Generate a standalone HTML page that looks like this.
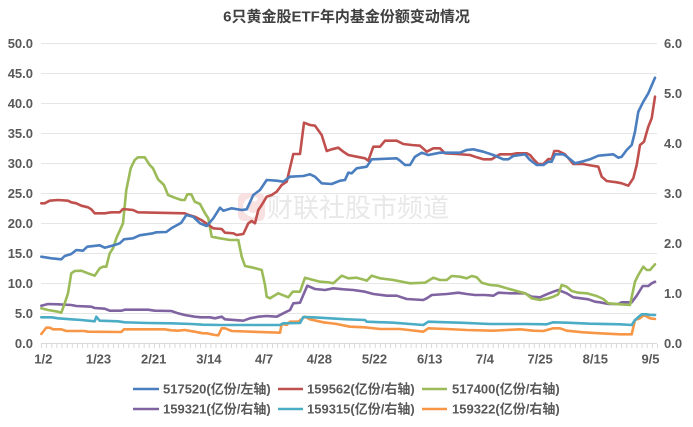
<!DOCTYPE html>
<html>
<head>
<meta charset="utf-8">
<style>
html,body{margin:0;padding:0;background:#fff;}
body{width:693px;height:427px;overflow:hidden;}
svg{display:block;}
text{font-family:"Liberation Sans","Noto Sans CJK SC",sans-serif;}
</style>
</head>
<body>
<svg width="693" height="427" viewBox="0 0 693 427" xmlns="http://www.w3.org/2000/svg">
<rect width="693" height="427" fill="#fff"/>
<!-- title -->
<text x="346.5" y="21.5" text-anchor="middle" font-size="15" font-weight="bold" fill="#404040" style='font-family:"Liberation Sans","Noto Sans CJK SC",sans-serif'>6只黄金股ETF年内基金份额变动情况</text>

<!-- gridlines -->
<g stroke="#e6e6e6" stroke-width="1">
<line x1="41" y1="43.5" x2="657" y2="43.5"/>
<line x1="41" y1="73.5" x2="657" y2="73.5"/>
<line x1="41" y1="103.5" x2="657" y2="103.5"/>
<line x1="41" y1="133.5" x2="657" y2="133.5"/>
<line x1="41" y1="163.5" x2="657" y2="163.5"/>
<line x1="41" y1="193.5" x2="657" y2="193.5"/>
<line x1="41" y1="223.5" x2="657" y2="223.5"/>
<line x1="41" y1="253.5" x2="657" y2="253.5"/>
<line x1="41" y1="283.5" x2="657" y2="283.5"/>
<line x1="41" y1="313.5" x2="657" y2="313.5"/>
</g>
<!-- x axis -->
<line x1="41" y1="343.5" x2="657" y2="343.5" stroke="#d9d9d9" stroke-width="1"/>
<path id="ticks" stroke="#d9d9d9" stroke-width="1" fill="none" d=""/>

<!-- watermark -->
<g opacity="0.9">
<rect x="238" y="193" width="27" height="28" rx="6" fill="#fadede"/>
<path d="M257 200 A8 8 0 1 0 257 214" stroke="#fff" stroke-width="4" fill="none"/>
<text x="267" y="217" font-size="26" fill="#e6e6e6" style='font-family:"Noto Sans CJK SC",sans-serif'>财联社股市频道</text>
</g>

<g fill="none" stroke-width="2.6" stroke-linejoin="round" stroke-linecap="round">
<!-- orange 159322 -->
<polyline stroke="#F79646" points="41.3,334 46.3,327.7 49.7,327.7 53,329.3 61.3,329.3 66.3,331 84.7,331 88,331.7 121.3,332 124,329.3 164.7,329.3 171.3,330.3 178,330.7 184.7,330 194.7,331.7 203,333.3 206.7,333.3 215,335 218.3,335.3 221.7,328.3 225,328.3 231.7,331 280,332.7 281.7,324 286.7,325 290,321.7 298.3,321.7 305,316.7 310,319.3 323.3,322.3 336.7,324 350,326.7 365,327.3 380,329 400,329 423.3,331.7 428.3,328.3 446.7,329 466.7,330 493.3,330.7 520,329.3 533.3,330.7 543.3,331 553.3,328.3 560,328.3 566.7,330.7 583.3,332.3 600,333.3 620,334.3 631.7,334.3 635,320 640,318.3 644,315 650,318.3 655,319"/>
<!-- cyan 159315 -->
<polyline stroke="#4BACC6" points="41.3,317.3 51.3,317.3 58,318.3 71.3,319.3 81.3,320 94.7,321.3 96.3,316.7 99.7,320.7 118,321.3 124.7,322.3 148,323 171.3,323.3 191.3,324 203,324.7 220,325 280,325 283.3,323.3 300,323 303.3,317 313.3,317.3 330,318.3 346.7,319.3 365,320 366.7,321.7 393.3,322.7 423.3,325 428.3,321.7 446.7,322.3 460,322.7 490,324 525,324 546.7,324.3 553.3,322.3 566.7,322.7 590,323.7 620,324.3 631.7,325 635,320 641.7,314.3 646.7,314.3 650,315 655,315"/>
<!-- purple 159321 -->
<polyline stroke="#8064A2" points="41.3,305.7 48,304 58,304.3 71.3,305 76.3,306 91.3,306.7 94.7,308 104.7,308.7 109.7,310.7 121.3,310.7 124.7,309.7 148,309.7 154.7,310.7 171.3,311 178,313.3 184.7,315 194.7,316.7 201.3,317.3 210,317.3 215,318.3 221.7,316.7 225,319.3 243.3,320.7 250,318.3 258.3,316.7 266.7,316 276.7,316.7 283.3,313.3 290,310 293.3,303.3 300,302.7 303.3,295 307.3,285.7 315,289 325,290 333.3,288.3 343.3,289.3 353.3,290 365,291.7 373.3,294 386.7,295.7 396.7,295.7 406.7,299 423.3,300 426.7,298.3 431.7,295 446.7,294 458.3,292.7 466.7,294 475,295 485,295 493.3,295.7 498.3,292.7 510,293.3 525,293.3 526.7,294.3 531.7,296.7 540,297.3 546.7,294.3 553.3,291.7 558.3,290 566.7,293.3 573.3,297.3 588.3,299.3 595,301.7 600,302.3 608.3,304 618.3,304 621.7,302.3 631.7,302.3 636.7,295.7 642.7,286 648.3,286 651.7,283.3 655,281.7"/>
<!-- green 517400 -->
<polyline stroke="#9BBB59" points="41.3,308.3 48,310 58,311.7 61.3,312.7 64.7,303.3 68,293.3 71.3,273.3 74.7,271 81.3,270.7 88,273.3 94.7,275.7 99.7,268.3 103,266.7 106.3,266.7 109.7,253.3 113,248.3 116.3,238.3 123,223.3 126.3,190 130.7,168.3 134.7,160 138,157.3 144.7,157.3 149.7,165 153,168.3 158,179.3 164,185 168,195 174.7,197.7 181.3,200 184.7,200 187.3,194.3 191.3,194.3 194.7,201.7 200,204 205,213.3 208.3,218.3 211.7,236.7 220,238.3 230,240 238.3,240 241.7,256.7 245,266 253.3,267.7 261.7,270 265,285 266.7,296.7 270,298.3 278.3,293.3 288.3,297.3 292.7,291.7 300,291.7 305,277.7 313.3,280 320,281.7 328.3,282.3 333.3,283.3 341.7,275.7 348.3,278.3 356.7,277.7 365,280 366.7,280.7 371.7,275.7 380,278.3 393.3,280 410,283.3 425,282.7 433.3,277.7 440,280 446.7,280 451.7,276 460,276.7 466.7,278.3 471.7,276 476.7,277.3 481.7,282.7 490,285 498.3,285.7 506.7,288.3 516.7,291 525,293.3 526.7,294.3 531.7,298.3 540,300 548.3,298.3 553.3,296.7 558.3,294.3 561.7,285 566.7,286.7 571.7,291 578.3,292.7 586.7,293.3 596.7,296 603.3,299 608.3,303.3 620,304.3 630,305 635,281.7 638.3,275 643.3,266.7 646.7,270 650,270 655,264.3"/>
<!-- red 159562 -->
<polyline stroke="#C0504D" points="41.3,203.3 44.7,203.3 49.7,200.7 58,200 68,200.7 71.3,202.3 76.3,203.3 81.3,205.7 88,207.3 91.3,209.3 94.7,213.3 104.7,213.3 111.3,212.3 119.7,212.3 123,209 133,210 138,212.3 184.7,213.3 189.7,215.3 194.7,216.7 201.3,220 210,226 213.3,228.3 221.7,229 225,232.7 233.3,233.3 236.7,235 243.3,234 248.3,223.3 251.7,221 255,223.3 258.3,210 261.7,205 266.7,196.7 271.7,195 276.7,191.7 281.7,185 286.7,181.7 293.3,154 300,154 304,122.7 310,125 315,125.7 321.7,135 326.7,151 331.7,149.3 338.3,147.7 343.3,151.7 348.3,155 356.7,156.7 365,158.3 368.3,160.7 373.3,146.7 380,146.7 385,140.7 396.7,140.7 403.3,144 411.7,145 420,145.7 426.7,151.7 433.3,148.3 440,148.3 445,153.3 456.7,154 470,155 476.7,157.3 483.3,159.3 491.7,159.3 496.7,156 500,154.3 511.7,154.3 516.7,153.3 526.7,153.3 530,155 533.3,159 538.3,164 543.3,164 548.3,159 551.7,159 554.3,151 558.3,151 565,154.3 570,160 573.3,164 583.3,164 588.3,165 598.3,166.7 601.7,176.7 606.7,181 616.7,182.3 621.7,183.3 628.3,185.7 633.3,178.3 636.7,165 640,145 644,141.7 648.3,126.7 651.7,118.3 655,96.7"/>
<!-- blue 517520 -->
<polyline stroke="#4A7EBF" points="41.3,256.7 51.3,258.3 61.3,259.3 64.7,256 71.3,254 76.3,250 83,250.7 87.3,246.7 99.7,245.3 104.7,247.7 114.7,245 119.7,243.3 124,239.3 133,238.3 139.7,235.3 153,233.3 156.3,232.3 166.3,232 171.3,228.3 181.3,222.7 186.3,215 193,216.7 200,223.3 206.7,226 213.3,218.3 220,207.7 223.3,210.7 231.7,208.3 241.7,210 246.7,209.3 253.3,195 260,190 266.7,180 276.7,180.7 283.3,181.7 290,176.7 303.3,176 310,174.3 315,176.7 321.7,183.3 331.7,184 340,180.7 345,180 348.3,172.7 351.7,173.3 356.7,168.3 366.7,166.7 371.7,159.3 396.7,158.3 400,160.7 405,165 410,165 415,156.7 421.7,152.7 428.3,155 440,152.7 460,152.7 466.7,150 473.3,149.3 483.3,151.7 493.3,155 503.3,159.3 508.3,159.3 513.3,156 525,154.3 530,160 536.7,165 543.3,165 548.3,161.7 551.7,161.7 555,154.3 563.3,154.3 568.3,157.7 575,163.3 581.7,161.7 590,159.3 598.3,155.7 613.3,154.3 618.3,157.7 621.7,156.7 626.7,150 631.7,145 635,131.7 638.3,111.7 643.3,101.7 648.3,93.3 655,77.7"/>
</g>

<!-- left axis labels -->
<g font-size="13" font-weight="bold" fill="#595959" text-anchor="end">
<text x="33" y="48">50.0</text>
<text x="33" y="78">45.0</text>
<text x="33" y="108">40.0</text>
<text x="33" y="138">35.0</text>
<text x="33" y="168">30.0</text>
<text x="33" y="198">25.0</text>
<text x="33" y="228">20.0</text>
<text x="33" y="258">15.0</text>
<text x="33" y="288">10.0</text>
<text x="33" y="318">5.0</text>
<text x="33" y="348">0.0</text>
</g>
<!-- right axis labels -->
<g font-size="13" font-weight="bold" fill="#595959">
<text x="664" y="48">6.0</text>
<text x="664" y="98">5.0</text>
<text x="664" y="148">4.0</text>
<text x="664" y="198">3.0</text>
<text x="664" y="248">2.0</text>
<text x="664" y="298">1.0</text>
<text x="664" y="348">0.0</text>
</g>
<!-- x labels -->
<g font-size="13" font-weight="bold" fill="#595959" text-anchor="middle">
<text x="43.3" y="363.5">1/2</text>
<text x="98.5" y="363.5">1/23</text>
<text x="153.7" y="363.5">2/21</text>
<text x="208.9" y="363.5">3/14</text>
<text x="264.1" y="363.5">4/7</text>
<text x="319.3" y="363.5">4/28</text>
<text x="374.5" y="363.5">5/22</text>
<text x="429.7" y="363.5">6/13</text>
<text x="484.9" y="363.5">7/4</text>
<text x="540.1" y="363.5">7/25</text>
<text x="595.3" y="363.5">8/15</text>
<text x="650.5" y="363.5">9/5</text>
</g>

<!-- legend -->
<g stroke-width="2.6" fill="none">
<line x1="133" y1="389" x2="159" y2="389" stroke="#4A7EBF"/>
<line x1="278" y1="389" x2="303" y2="389" stroke="#C0504D"/>
<line x1="422" y1="389" x2="447" y2="389" stroke="#9BBB59"/>
<line x1="133" y1="409" x2="159" y2="409" stroke="#8064A2"/>
<line x1="278" y1="409" x2="303" y2="409" stroke="#4BACC6"/>
<line x1="422" y1="409" x2="447" y2="409" stroke="#F79646"/>
</g>
<g font-size="13" font-weight="bold" fill="#595959">
<text x="163" y="393.5">517520(亿份/左轴)</text>
<text x="307" y="393.5">159562(亿份/右轴)</text>
<text x="452" y="393.5">517400(亿份/右轴)</text>
<text x="163" y="413.5">159321(亿份/右轴)</text>
<text x="307" y="413.5">159315(亿份/右轴)</text>
<text x="452" y="413.5">159322(亿份/右轴)</text>
</g>

<!-- x ticks -->
<g stroke="#d9d9d9" stroke-width="1">
<line x1="41.5" y1="344" x2="41.5" y2="348"/><line x1="46.6" y1="344" x2="46.6" y2="348"/><line x1="51.8" y1="344" x2="51.8" y2="348"/><line x1="56.9" y1="344" x2="56.9" y2="348"/><line x1="62.0" y1="344" x2="62.0" y2="348"/><line x1="67.2" y1="344" x2="67.2" y2="348"/><line x1="72.3" y1="344" x2="72.3" y2="348"/><line x1="77.4" y1="344" x2="77.4" y2="348"/><line x1="82.6" y1="344" x2="82.6" y2="348"/><line x1="87.7" y1="344" x2="87.7" y2="348"/><line x1="92.8" y1="344" x2="92.8" y2="348"/><line x1="98.0" y1="344" x2="98.0" y2="348"/><line x1="103.1" y1="344" x2="103.1" y2="348"/><line x1="108.2" y1="344" x2="108.2" y2="348"/><line x1="113.4" y1="344" x2="113.4" y2="348"/><line x1="118.5" y1="344" x2="118.5" y2="348"/><line x1="123.6" y1="344" x2="123.6" y2="348"/><line x1="128.8" y1="344" x2="128.8" y2="348"/><line x1="133.9" y1="344" x2="133.9" y2="348"/><line x1="139.0" y1="344" x2="139.0" y2="348"/><line x1="144.2" y1="344" x2="144.2" y2="348"/><line x1="149.3" y1="344" x2="149.3" y2="348"/><line x1="154.4" y1="344" x2="154.4" y2="348"/><line x1="159.6" y1="344" x2="159.6" y2="348"/><line x1="164.7" y1="344" x2="164.7" y2="348"/><line x1="169.8" y1="344" x2="169.8" y2="348"/><line x1="175.0" y1="344" x2="175.0" y2="348"/><line x1="180.1" y1="344" x2="180.1" y2="348"/><line x1="185.2" y1="344" x2="185.2" y2="348"/><line x1="190.4" y1="344" x2="190.4" y2="348"/><line x1="195.5" y1="344" x2="195.5" y2="348"/><line x1="200.6" y1="344" x2="200.6" y2="348"/><line x1="205.8" y1="344" x2="205.8" y2="348"/><line x1="210.9" y1="344" x2="210.9" y2="348"/><line x1="216.0" y1="344" x2="216.0" y2="348"/><line x1="221.2" y1="344" x2="221.2" y2="348"/><line x1="226.3" y1="344" x2="226.3" y2="348"/><line x1="231.4" y1="344" x2="231.4" y2="348"/><line x1="236.6" y1="344" x2="236.6" y2="348"/><line x1="241.7" y1="344" x2="241.7" y2="348"/><line x1="246.8" y1="344" x2="246.8" y2="348"/><line x1="252.0" y1="344" x2="252.0" y2="348"/><line x1="257.1" y1="344" x2="257.1" y2="348"/><line x1="262.2" y1="344" x2="262.2" y2="348"/><line x1="267.4" y1="344" x2="267.4" y2="348"/><line x1="272.5" y1="344" x2="272.5" y2="348"/><line x1="277.6" y1="344" x2="277.6" y2="348"/><line x1="282.8" y1="344" x2="282.8" y2="348"/><line x1="287.9" y1="344" x2="287.9" y2="348"/><line x1="293.0" y1="344" x2="293.0" y2="348"/><line x1="298.2" y1="344" x2="298.2" y2="348"/><line x1="303.3" y1="344" x2="303.3" y2="348"/><line x1="308.4" y1="344" x2="308.4" y2="348"/><line x1="313.6" y1="344" x2="313.6" y2="348"/><line x1="318.7" y1="344" x2="318.7" y2="348"/><line x1="323.8" y1="344" x2="323.8" y2="348"/><line x1="329.0" y1="344" x2="329.0" y2="348"/><line x1="334.1" y1="344" x2="334.1" y2="348"/><line x1="339.2" y1="344" x2="339.2" y2="348"/><line x1="344.4" y1="344" x2="344.4" y2="348"/><line x1="349.5" y1="344" x2="349.5" y2="348"/><line x1="354.6" y1="344" x2="354.6" y2="348"/><line x1="359.8" y1="344" x2="359.8" y2="348"/><line x1="364.9" y1="344" x2="364.9" y2="348"/><line x1="370.0" y1="344" x2="370.0" y2="348"/><line x1="375.2" y1="344" x2="375.2" y2="348"/><line x1="380.3" y1="344" x2="380.3" y2="348"/><line x1="385.4" y1="344" x2="385.4" y2="348"/><line x1="390.6" y1="344" x2="390.6" y2="348"/><line x1="395.7" y1="344" x2="395.7" y2="348"/><line x1="400.8" y1="344" x2="400.8" y2="348"/><line x1="406.0" y1="344" x2="406.0" y2="348"/><line x1="411.1" y1="344" x2="411.1" y2="348"/><line x1="416.2" y1="344" x2="416.2" y2="348"/><line x1="421.4" y1="344" x2="421.4" y2="348"/><line x1="426.5" y1="344" x2="426.5" y2="348"/><line x1="431.6" y1="344" x2="431.6" y2="348"/><line x1="436.8" y1="344" x2="436.8" y2="348"/><line x1="441.9" y1="344" x2="441.9" y2="348"/><line x1="447.0" y1="344" x2="447.0" y2="348"/><line x1="452.2" y1="344" x2="452.2" y2="348"/><line x1="457.3" y1="344" x2="457.3" y2="348"/><line x1="462.4" y1="344" x2="462.4" y2="348"/><line x1="467.6" y1="344" x2="467.6" y2="348"/><line x1="472.7" y1="344" x2="472.7" y2="348"/><line x1="477.8" y1="344" x2="477.8" y2="348"/><line x1="483.0" y1="344" x2="483.0" y2="348"/><line x1="488.1" y1="344" x2="488.1" y2="348"/><line x1="493.2" y1="344" x2="493.2" y2="348"/><line x1="498.4" y1="344" x2="498.4" y2="348"/><line x1="503.5" y1="344" x2="503.5" y2="348"/><line x1="508.6" y1="344" x2="508.6" y2="348"/><line x1="513.8" y1="344" x2="513.8" y2="348"/><line x1="518.9" y1="344" x2="518.9" y2="348"/><line x1="524.0" y1="344" x2="524.0" y2="348"/><line x1="529.2" y1="344" x2="529.2" y2="348"/><line x1="534.3" y1="344" x2="534.3" y2="348"/><line x1="539.4" y1="344" x2="539.4" y2="348"/><line x1="544.6" y1="344" x2="544.6" y2="348"/><line x1="549.7" y1="344" x2="549.7" y2="348"/><line x1="554.8" y1="344" x2="554.8" y2="348"/><line x1="560.0" y1="344" x2="560.0" y2="348"/><line x1="565.1" y1="344" x2="565.1" y2="348"/><line x1="570.2" y1="344" x2="570.2" y2="348"/><line x1="575.4" y1="344" x2="575.4" y2="348"/><line x1="580.5" y1="344" x2="580.5" y2="348"/><line x1="585.6" y1="344" x2="585.6" y2="348"/><line x1="590.8" y1="344" x2="590.8" y2="348"/><line x1="595.9" y1="344" x2="595.9" y2="348"/><line x1="601.0" y1="344" x2="601.0" y2="348"/><line x1="606.2" y1="344" x2="606.2" y2="348"/><line x1="611.3" y1="344" x2="611.3" y2="348"/><line x1="616.4" y1="344" x2="616.4" y2="348"/><line x1="621.6" y1="344" x2="621.6" y2="348"/><line x1="626.7" y1="344" x2="626.7" y2="348"/><line x1="631.8" y1="344" x2="631.8" y2="348"/><line x1="637.0" y1="344" x2="637.0" y2="348"/><line x1="642.1" y1="344" x2="642.1" y2="348"/><line x1="647.2" y1="344" x2="647.2" y2="348"/><line x1="652.4" y1="344" x2="652.4" y2="348"/><line x1="657.5" y1="344" x2="657.5" y2="348"/>
</g>
</svg>
</body>
</html>
